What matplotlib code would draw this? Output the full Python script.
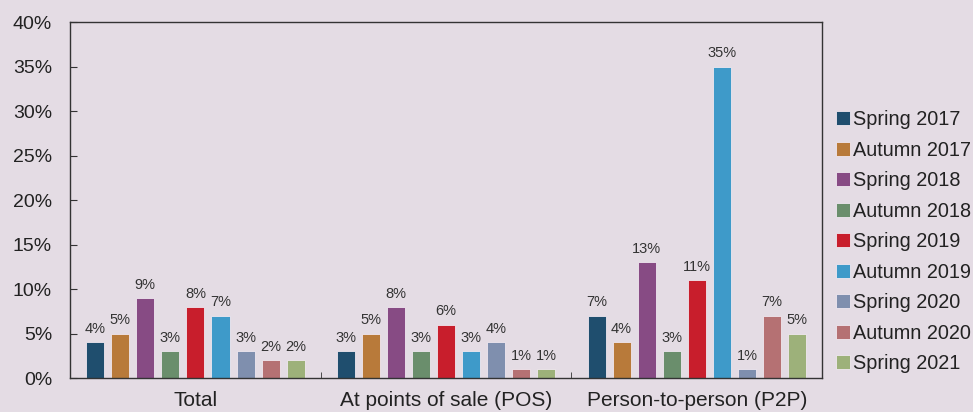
import matplotlib.pyplot as plt
import numpy as np

plt.rcParams['font.family'] = ['Liberation Sans', 'DejaVu Sans']

categories = ["Total", "At points of sale (POS)", "Person-to-person (P2P)"]
seasons = ["Spring 2017", "Autumn 2017", "Spring 2018", "Autumn 2018", "Spring 2019",
           "Autumn 2019", "Spring 2020", "Autumn 2020", "Spring 2021"]
total = [4, 5, 9, 3, 8, 7, 3, 2, 2]
pos = [3, 5, 8, 3, 6, 3, 4, 1, 1]
p2p = [7, 4, 13, 3, 11, 35, 1, 7, 5]
colors = ["#1f4e6e", "#b87a3a", "#874b84", "#6a8e6c", "#c81e2c",
          "#3e9ac9", "#7f8fae", "#b57173", "#9db17a"]

bg = "#e4dce4"
values = np.array([total, pos, p2p])

fig = plt.figure(figsize=(9.73, 4.12), dpi=100, facecolor=bg)
ax = fig.add_axes([0.072, 0.0825, 0.773, 0.864], facecolor=bg)

x = np.arange(len(categories))
step = 0.1
width = 0.072
for i, (name, col) in enumerate(zip(seasons, colors)):
    pos_x = x + (i - 4) * step
    vals = values[:, i]
    ax.bar(pos_x, vals, width=width, color=col, edgecolor="#f0e8f0", linewidth=0.6, label=name)
    for px, v in zip(pos_x, vals):
        ax.text(px, v + 0.7, f"{v}%", ha="center", va="bottom", fontsize=10.5, color="#333333")

ax.set_xlim(-0.5, 2.5)
ax.set_ylim(0, 40)
ax.set_yticks(range(0, 41, 5))
ax.set_yticklabels([f"{t}%" for t in range(0, 41, 5)])
ax.set_xticks(x)
ax.set_xticklabels(categories)
ax.set_xticks([0.5, 1.5], minor=True)
ax.tick_params(axis="x", which="major", length=0, pad=9, labelsize=15, labelcolor="#222222")
ax.tick_params(axis="x", which="minor", direction="in", length=4, color="#333333")
ax.tick_params(axis="y", direction="in", length=5, pad=13, labelsize=14, labelcolor="#222222",
               color="#333333")
for s in ax.spines.values():
    s.set_color("#333333")
    s.set_linewidth(1.0)

fig.legend(loc="upper left", bbox_to_anchor=(0.851, 0.752), frameon=False, fontsize=14.3,
           handlelength=0.7, handleheight=0.7, handletextpad=0.15, labelspacing=0.58,
           borderaxespad=0, labelcolor="#222222")

fig.savefig("out.png", dpi=100, facecolor=bg)
